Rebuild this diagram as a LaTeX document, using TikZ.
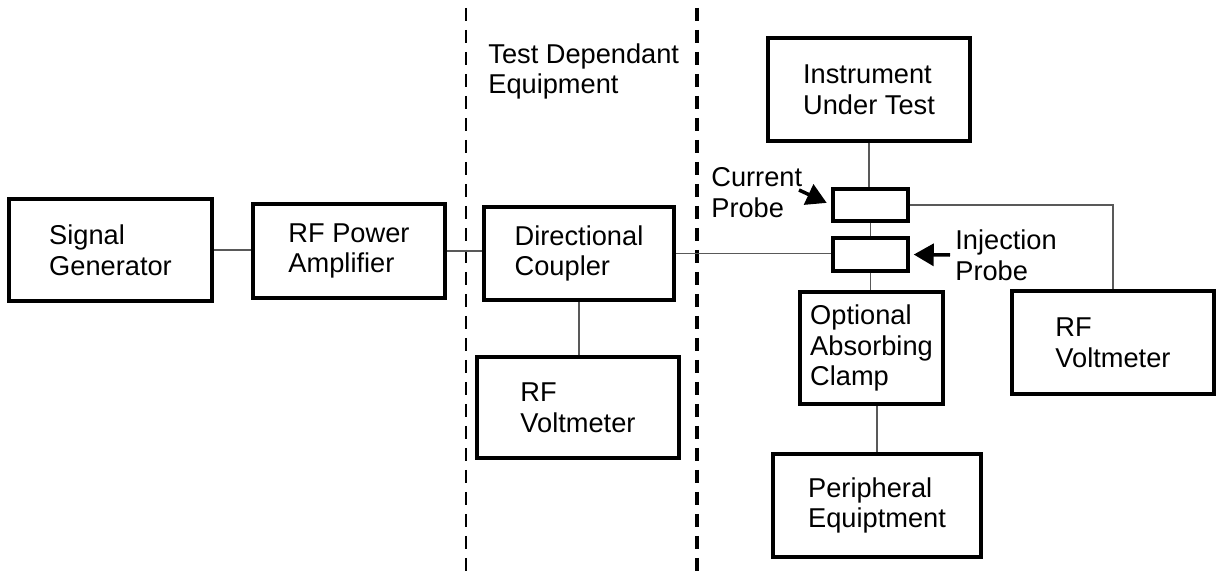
\documentclass[tikz,border=0pt]{standalone}
\usepackage{fontspec}
\setmainfont{Liberation Sans}
\usetikzlibrary{arrows.meta}
\tikzset{
  box/.style={draw,line width=2pt,inner sep=0pt,align=left,font=\fontsize{15.5}{17.4}\selectfont},
  probe/.style={draw,line width=2pt,inner sep=0pt,minimum width=75*0.02cm,minimum height=32*0.02cm},
  wire/.style={line width=0.6pt,black!65},
  sep/.style={dash pattern=on 2.6mm off 1.8mm},
  pointer/.style={line width=2pt,-{Triangle[length=4mm,width=4.4mm]}},
  tag/.style={anchor=west,inner sep=0pt,align=left,font=\fontsize{15.5}{17.4}\selectfont}
}
\begin{document}
\begin{tikzpicture}[x=0.02cm,y=-0.02cm]
\useasboundingbox (0,0) rectangle (1217,573);
\draw[sep,line width=1.1pt] (466,8) -- (466,573);
\draw[sep,line width=1.9pt] (697,8) -- (697,573);
\node[box,minimum width=203*0.02cm,minimum height=102*0.02cm] (sg) at (110.5,250) {Signal\\Generator};
\node[box,minimum width=192*0.02cm,minimum height=94*0.02cm] (rfpa) at (349,251) {RF Power\\Amplifier};
\node[box,minimum width=190*0.02cm,minimum height=93*0.02cm] (dc) at (579,253.5) {Directional\\Coupler};
\node[box,minimum width=202*0.02cm,minimum height=101*0.02cm] (vm1) at (578,407.5) {RF\\Voltmeter};
\node[box,minimum width=202*0.02cm,minimum height=103*0.02cm] (iut) at (869,89.5) {Instrument\\Under Test};
\node[probe] (cp) at (870.5,205) {};
\node[probe,minimum height=33*0.02cm] (ip) at (870.5,254.5) {};
\node[box,minimum width=143*0.02cm,minimum height=112*0.02cm] (clamp) at (871.5,348) {Optional\\Absorbing\\Clamp};
\node[box,minimum width=208*0.02cm,minimum height=103*0.02cm] (pe) at (877,505.5) {Peripheral\\Equiptment};
\node[box,minimum width=202*0.02cm,minimum height=103*0.02cm] (vm2) at (1113,342.5) {RF\\Voltmeter};
\node[tag] (tde) at (488,71.5) {Test Dependant\\Equipment};
\node[tag] (cpl) at (711,192.5) {Current\\Probe};
\node[tag] (ipl) at (955,255) {Injection\\Probe};
\coordinate (cpa) at (799,190);
\coordinate (ipa) at (950,255);
\draw[wire] (sg.east) -- (sg.east -| rfpa.west);
\draw[wire] (rfpa.east) -- (dc.west |- rfpa.east);
\draw[wire] (dc.east) -- (dc.east -| ip.west);
\draw[wire] (dc.south) -- (dc.south |- vm1.north);
\draw[wire] (iut.south) -- (iut.south |- cp.north);
\draw[wire] (cp.south) -- (ip.north);
\draw[wire] (ip.south) -- (ip.south |- clamp.north);
\draw[wire] (pe.north |- clamp.south) -- (pe.north);
\draw[wire] (cp.east) -- (vm2.north |- cp.east) -- (vm2.north);
\draw[pointer,shorten >=1mm] (cpa) -- (cp.west);
\draw[pointer,shorten >=0.8mm] (ipa) -- (ip.east);
\end{tikzpicture}
\end{document}
